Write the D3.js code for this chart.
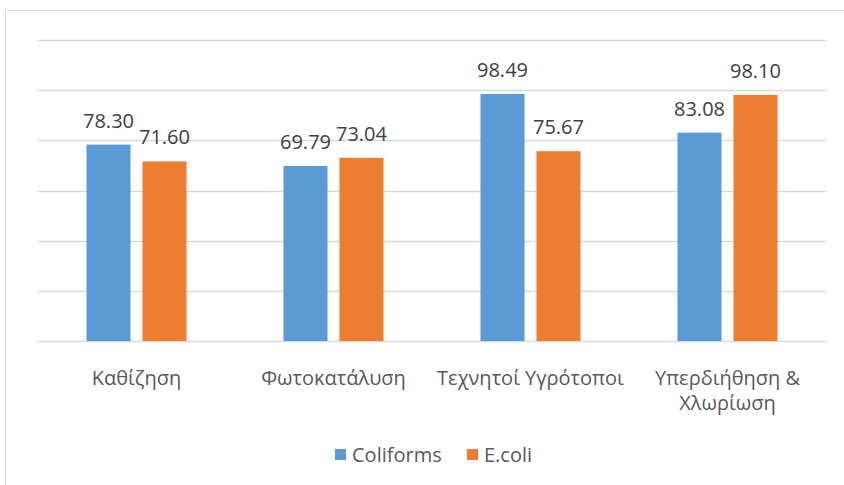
<!DOCTYPE html>
<html>
<head>
<meta charset="utf-8">
<script src="https://cdn.jsdelivr.net/npm/d3@7"></script>
<style>
	body { margin: 0; background: #fff; }
	text { font-family: 'Open Sans', 'Liberation Sans', sans-serif; }
</style>
</head>
<body>
<script>
var categories = [['Καθίζηση'], ['Φωτοκατάλυση'], ['Τεχνητοί Υγρότοποι'], ['Υπερδιήθηση &', 'Χλωρίωση']];
var seriesNames = ['Coliforms', 'E.coli'];
var coliforms = [78.30, 69.79, 98.49, 83.08];
var ecoli = [71.60, 73.04, 75.67, 98.10];
var yTicks = [0, 20, 40, 60, 80, 100, 120];

var colors = ['#5b9bd5', '#ed7d31'];
var width = 844, height = 485;

var svg = d3.select('body').append('svg').attr('width', width).attr('height', height);

// chart border
svg.append('rect').attr('x', 5.5).attr('y', 10.5).attr('width', width + 10).attr('height', height + 10)
	.attr('fill', 'none').attr('stroke', '#d9d9d9');

var plotLeft = 38, plotRight = 826, plotTop = 40, plotBottom = 341;

var x = d3.scaleBand().domain(d3.range(categories.length)).range([plotLeft, plotRight]);
var x1 = d3.scaleBand().domain([0, 1]).range([0, x.bandwidth()]).paddingInner(0.214).paddingOuter(0.866);
var y = d3.scaleLinear().domain([0, 120]).range([plotBottom, plotTop]);

svg.selectAll('.grid').data(yTicks).enter().append('line')
	.attr('x1', plotLeft).attr('x2', plotRight)
	.attr('y1', function(d) { return Math.round(y(d)) + 0.5; })
	.attr('y2', function(d) { return Math.round(y(d)) + 0.5; })
	.attr('stroke', '#d9d9d9').attr('stroke-width', 1.5);

var series = [coliforms, ecoli];
series.forEach(function(values, s) {
	var g = svg.append('g');
	g.selectAll('rect').data(values).enter().append('rect')
		.attr('x', function(d, i) { return x(i) + x1(s); })
		.attr('y', function(d) { return y(d); })
		.attr('width', x1.bandwidth())
		.attr('height', function(d) { return y(0) - y(d); })
		.attr('fill', colors[s]);
	g.selectAll('text').data(values).enter().append('text')
		.attr('x', function(d, i) { return x(i) + x1(s) + x1.bandwidth() / 2; })
		.attr('y', function(d) { return y(d) - 17; })
		.attr('text-anchor', 'middle')
		.attr('font-size', '20px')
		.attr('fill', '#404040')
		.text(function(d) { return d.toFixed(2); });
});

// category labels
var cat = svg.selectAll('.cat').data(categories).enter().append('text')
	.attr('text-anchor', 'middle')
	.attr('font-size', '20px')
	.attr('fill', '#595959')
	.attr('transform', function(d, i) { return 'translate(' + (x(i) + x.bandwidth() / 2) + ',' + 385 + ')'; });
cat.selectAll('tspan').data(function(d) { return d; }).enter().append('tspan')
	.attr('x', 0).attr('dy', function(d, i) { return i ? 25 : 0; })
	.text(function(d) { return d; });

// legend
var legendX = [335, 467];
seriesNames.forEach(function(name, s) {
	svg.append('rect').attr('x', legendX[s]).attr('y', 449).attr('width', 11).attr('height', 11).attr('fill', colors[s]);
	svg.append('text').attr('x', legendX[s] + 17).attr('y', 462)
		.attr('font-size', '20px').attr('fill', '#595959').text(name);
});
</script>
</body>
</html>
